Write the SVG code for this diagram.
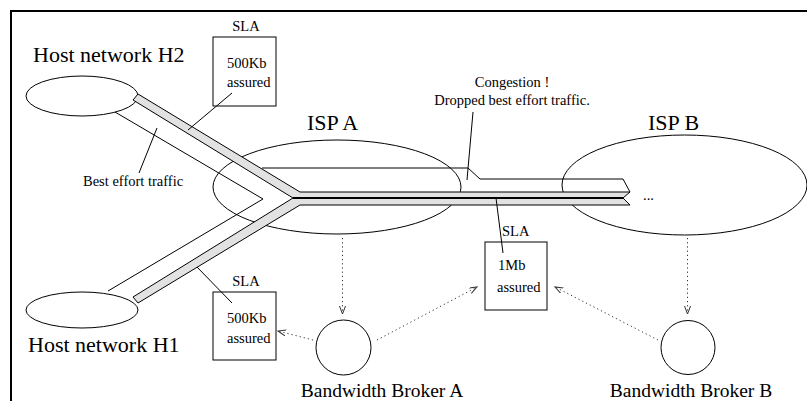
<svg xmlns="http://www.w3.org/2000/svg" width="807" height="401" viewBox="0 0 807 401">
<style>
text{font-family:"Liberation Serif","Times New Roman",serif;fill:#000}
.big{font-size:22px}
.mid{font-size:19.5px}
.sm{font-size:14.5px}
.ln{fill:none;stroke:#000;stroke-width:1}
.band{fill:#e2e2e2;stroke:#000;stroke-width:1;stroke-linejoin:miter}
.dot{fill:none;stroke:#333;stroke-width:1;stroke-dasharray:1.2 3}
</style>
<defs>
<marker id="ah" markerUnits="userSpaceOnUse" markerWidth="12" markerHeight="12" refX="8" refY="3" orient="auto">
<path d="M0,0 L8,3 L0,6" fill="none" stroke="#333" stroke-width="1"/>
</marker>
</defs>
<rect width="807" height="401" fill="#fff"/>
<path d="M11,401 V11 H807" fill="none" stroke="#000" stroke-width="2"/>

<g id="hostH2">
<ellipse class="ln" cx="82" cy="96" rx="56" ry="20"/>
<text class="big" x="33" y="62">Host network H2</text>
</g>
<g id="hostH1">
<ellipse class="ln" cx="82" cy="310" rx="56" ry="18"/>
<text class="big" x="28" y="352">Host network H1</text>
</g>
<g id="ispA">
<ellipse class="ln" cx="337" cy="187" rx="124" ry="47"/>
<text class="big" x="307" y="130">ISP A</text>
</g>
<g id="ispB">
<ellipse class="ln" cx="684.5" cy="185" rx="122.5" ry="50"/>
<text class="big" x="648" y="130">ISP B</text>
<text class="sm" x="643" y="200">...</text>
</g>

<g id="connectors">
<!-- best effort pipes -->
<polyline class="ln" points="115,112 263,199 108,291"/>
<polyline class="ln" points="262,168 468,168 480,179 623,179 630,192"/>
<!-- assured bands -->
<polygon class="band" points="138,94 300,192 630,192 623,198 293,198 133,100"/>
<polygon class="band" points="293,198 623,198 630,205 300,205 138,303 133,297"/>
<line x1="293" y1="198" x2="623" y2="198" stroke="#000" stroke-width="1.8"/>
<!-- leaders -->
<line class="ln" x1="157" y1="128" x2="139" y2="173"/>
<line class="ln" x1="232" y1="93" x2="188" y2="130"/>
<line class="ln" x1="197" y1="267" x2="232" y2="303"/>
<line class="ln" x1="496" y1="198" x2="503" y2="253"/>
<line class="ln" x1="473" y1="112" x2="467" y2="180"/>
<!-- dotted arrows -->
<line class="dot" x1="342.5" y1="238" x2="342.5" y2="314" marker-end="url(#ah)"/>
<line class="dot" x1="687.5" y1="238" x2="687.5" y2="314" marker-end="url(#ah)"/>
<line class="dot" x1="377" y1="340" x2="477" y2="287" marker-end="url(#ah)"/>
<line class="dot" x1="658" y1="340" x2="555" y2="287" marker-end="url(#ah)"/>
<line class="dot" x1="313" y1="340" x2="278" y2="331" marker-end="url(#ah)"/>
</g>

<g id="labelBestEffort">
<text class="sm" x="83" y="186">Best effort traffic</text>
</g>
<g id="labelCongestion">
<text class="sm" x="512" y="87" text-anchor="middle">Congestion !</text>
<text class="sm" x="512" y="105" text-anchor="middle">Dropped best effort traffic.</text>
</g>

<g id="slaH2">
<rect class="ln" x="213" y="37" width="63" height="69"/>
<text class="sm" x="246" y="31" text-anchor="middle">SLA</text>
<text class="sm" x="227" y="68">500Kb</text>
<text class="sm" x="227" y="87">assured</text>
</g>
<g id="slaH1">
<rect class="ln" x="213" y="292" width="63" height="68"/>
<text class="sm" x="246" y="286" text-anchor="middle">SLA</text>
<text class="sm" x="227" y="323">500Kb</text>
<text class="sm" x="227" y="343">assured</text>
</g>
<g id="slaAB">
<rect class="ln" x="485" y="242" width="62" height="68"/>
<text class="sm" x="502" y="236">SLA</text>
<text class="sm" x="498" y="270">1Mb</text>
<text class="sm" x="497" y="292">assured</text>
</g>

<g id="brokerA">
<circle class="ln" cx="343.5" cy="347.5" r="27.5"/>
<text class="mid" x="382" y="397" text-anchor="middle">Bandwidth Broker A</text>
</g>
<g id="brokerB">
<circle class="ln" cx="688" cy="347.5" r="27"/>
<text class="mid" x="691" y="397" text-anchor="middle">Bandwidth Broker B</text>
</g>
</svg>
